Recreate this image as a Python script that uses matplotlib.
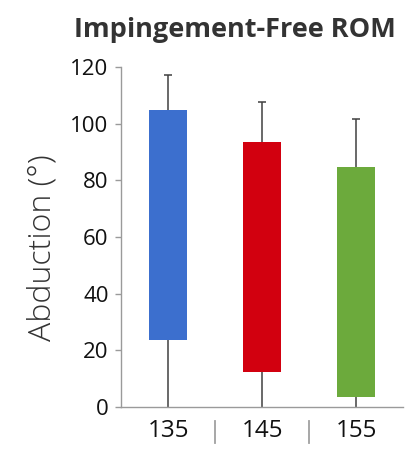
import matplotlib
matplotlib.use('Agg')
import matplotlib.pyplot as plt
import matplotlib.transforms as mtransforms
import numpy as np

# Data
categories = ['135', '145', '155']
bar_low = [23.6, 12.2, 3.4]
bar_high = [104.8, 93.6, 84.6]
whisker_low = [0, 0, 0]
whisker_high = [117.2, 107.5, 101.5]
colors = ['#3C6FCE', '#D2000F', '#6CAA3C']

plt.rcParams['font.family'] = ['Open Sans', 'DejaVu Sans']

fig = plt.figure(figsize=(4.16, 4.59), dpi=100)
ax = fig.add_axes([0.291, 0.1133, 0.678, 0.7407])

x = np.arange(len(categories))
heights = [h - l for h, l in zip(bar_high, bar_low)]

# whiskers behind the boxes
ax.vlines(x, whisker_low, whisker_high, color='#404040', linewidth=1.1, zorder=1)
ax.plot(x, whisker_high, marker='_', ms=6, mew=1.1, ls='none', color='#404040', zorder=1)
ax.bar(x, heights, bottom=bar_low, width=0.4, color=colors, zorder=2)

ax.set_xlim(-0.5, len(categories) - 0.5)
ax.set_ylim(0, 120)
ax.set_yticks(range(0, 121, 20))
ax.set_xticks(x)
ax.set_xticklabels(categories)

# category separators below the axis (Excel style)
trans = mtransforms.blended_transform_factory(ax.transData, ax.transAxes)
for b in x[:-1] + 0.5:
    ax.plot([b, b], [-0.04, -0.105], transform=trans, clip_on=False,
            color='#a0a0a0', linewidth=1.3)

for side in ['top', 'right']:
    ax.spines[side].set_visible(False)
for side in ['left', 'bottom']:
    ax.spines[side].set_color('#9a9a9a')
    ax.spines[side].set_linewidth(1.0)

ax.tick_params(axis='y', labelsize=16, colors='#9a9a9a', labelcolor='#111111', length=4, width=1, pad=5)
ax.tick_params(axis='x', which='major', labelsize=17.5, length=0, pad=9, labelcolor='#111111')

fig.text(0.102, 0.460, 'Abduction (°)', rotation=90, ha='center', va='center',
         fontsize=23, fontweight='light', color='#333333')
fig.text(0.565, 0.935, 'Impingement-Free ROM', ha='center', va='center',
         fontsize=19.5, fontweight='bold', color='#333333')

plt.savefig('out.png', dpi=100, facecolor='white')
plt.close()
